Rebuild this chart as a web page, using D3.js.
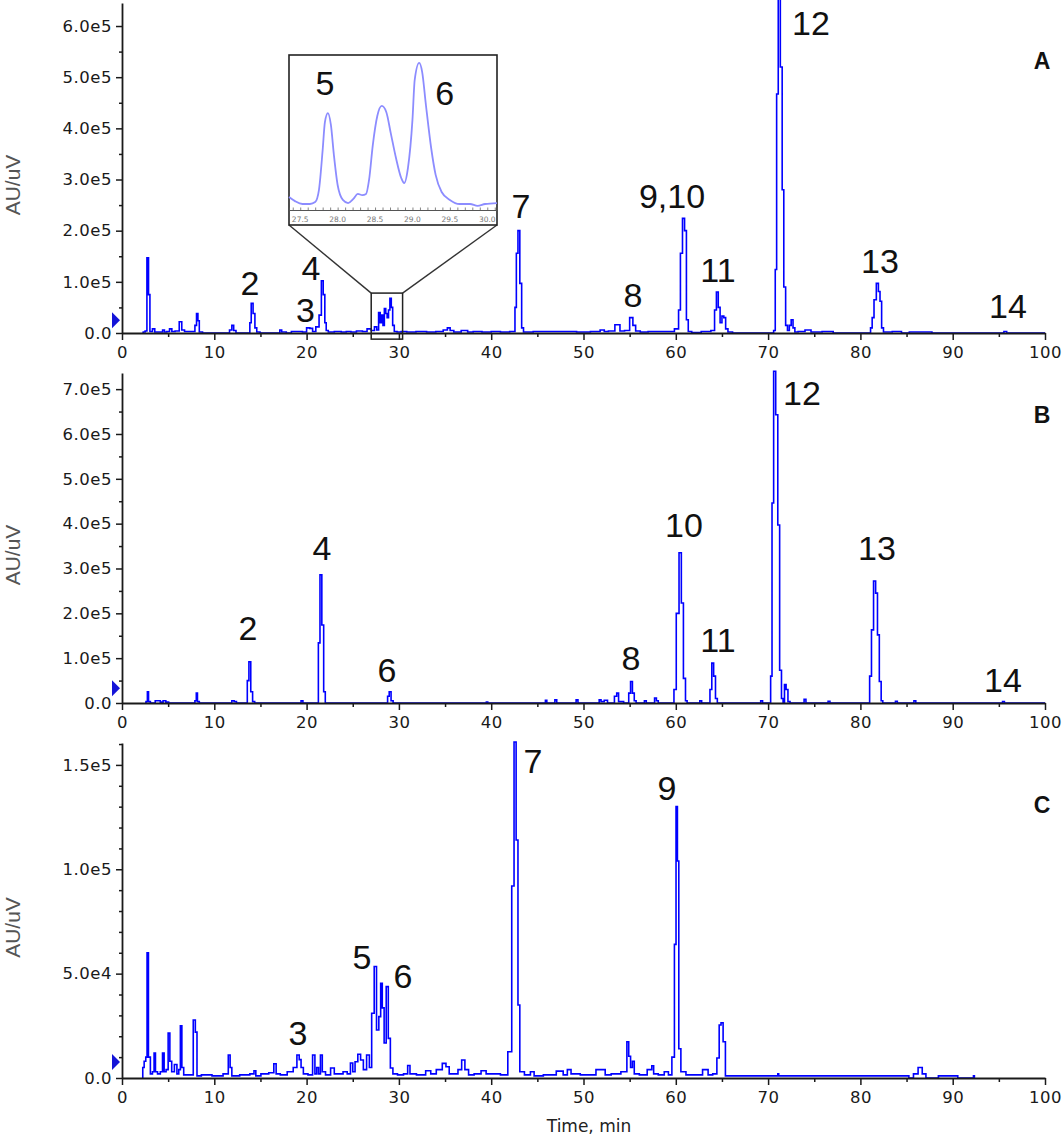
<!DOCTYPE html>
<html>
<head>
<meta charset="utf-8">
<script src="https://cdn.jsdelivr.net/npm/d3@7"></script>
<style>
  body { margin: 0; background: #fff; }
  svg { display: block; }
</style>
</head>
<body>
<svg id="chart" width="1064" height="1136"></svg>
<script>

// ---- data: [time (min), intensity (AU/uV)] ----
var traceA = [
  [2.2,0],[2.4,2e3],[2.6,4e3],[2.8,147e3],[2.95,75e3],[3.1,3e3],[3.5,8e3],[3.6,2e3],[4.3,2e3],[4.5,6e3],
  [4.7,2e3],[5.0,3e3],[5.3,8e3],[5.5,3e3],[6.0,4e3],[6.4,22e3],[6.55,6e3],[7.0,3e3],[7.8,3e3],[8.0,15e3],
  [8.15,38e3],[8.3,24e3],[8.45,2e3],[9.0,0],[11.5,0],[11.8,6e3],[12.0,15e3],[12.2,5e3],[12.5,0],[13.8,0],
  [13.9,20e3],[14.1,58e3],[14.3,38e3],[14.5,10e3],[14.7,2e3],[15.2,0],[17.0,0],[17.2,6e3],[17.4,2e3],[18.2,0],
  [18.5,3e3],[19.3,3e3],[19.8,2e3],[20.2,10e3],[20.5,9e3],[20.8,3e3],[21.2,12e3],[21.5,35e3],[21.7,102e3],[21.9,75e3],
  [22.05,20e3],[22.2,5e3],[22.5,2e3],[23.5,3e3],[24.0,2e3],[24.6,3e3],[25.0,2e3],[25.8,4e3],[26.3,3e3],[26.8,8e3],
  [27.2,5e3],[27.5,12e3],[27.7,6e3],[27.9,40e3],[28.05,20e3],[28.2,35e3],[28.35,15e3],[28.5,48e3],[28.65,38e3],[28.8,30e3],
  [28.95,45e3],[29.1,68e3],[29.25,50e3],[29.4,15e3],[29.6,3e3],[30.0,2e3],[30.5,3e3],[31.2,2e3],[32.5,3e3],[33.5,2e3],
  [34.5,3e3],[35.1,6e3],[35.4,10e3],[35.7,5e3],[36.2,2e3],[37.3,5e3],[37.6,2e3],[38.5,3e3],[39.5,2e3],[40.5,3e3],
  [41.5,2e3],[42.5,3e3],[42.65,50e3],[42.8,156e3],[43.0,200e3],[43.2,97e3],[43.4,10e3],[43.6,2e3],[45.5,3e3],[47.0,3e3],
  [48.5,3e3],[50.0,2e3],[51.5,3e3],[52.1,6e3],[52.4,3e3],[53.0,4e3],[53.8,16e3],[54.1,4e3],[54.8,5e3],[55.2,30e3],
  [55.5,15e3],[55.8,4e3],[56.5,2e3],[57.5,3e3],[59.5,3e3],[60.2,8e3],[60.4,45e3],[60.6,156e3],[60.85,224e3],[61.05,200e3],
  [61.25,26e3],[61.45,3e3],[62.0,1e3],[63.5,3e3],[64.1,5e3],[64.3,45e3],[64.5,80e3],[64.7,50e3],[64.9,20e3],[65.1,33e3],
  [65.3,30e3],[65.5,8e3],[65.8,2e3],[66.5,0],[70.5,0],[70.7,5e3],[70.85,124e3],[71.0,467e3],[71.2,660e3],[71.45,520e3],
  [71.6,280e3],[71.8,90e3],[72.0,15e3],[72.2,5e3],[72.4,15e3],[72.6,26e3],[72.8,10e3],[73.0,2e3],[73.5,3e3],[74.5,6e3],
  [74.8,2e3],[76.9,3e3],[77.2,0],[81.0,0],[81.2,10e3],[81.35,30e3],[81.6,65e3],[81.85,97e3],[82.05,81e3],[82.2,62e3],
  [82.4,10e3],[82.6,2e3],[84.3,3e3],[84.6,0],[86.0,2e3],[87.5,2e3],[88.0,0],[95.4,0],[95.7,3e3],[96.0,0],[100,0]
];

var traceB = [
  [2.5,0],[2.7,3e3],[2.8,25e3],[2.95,3e3],[3.2,0],[4.0,5e3],[4.3,2e3],[4.6,5e3],[4.9,2e3],[5.2,0],
  [7.8,0],[8.0,5e3],[8.1,22e3],[8.25,3e3],[8.5,0],[11.8,0],[12.0,5e3],[12.3,3e3],[12.5,0],[13.5,0],
  [13.65,50e3],[13.85,92e3],[14.05,25e3],[14.25,3e3],[14.5,0],[19.3,0],[19.5,5e3],[19.7,0],[21.2,0],[21.35,134e3],
  [21.55,286e3],[21.75,174e3],[21.95,25e3],[22.1,0],[28.7,0],[28.85,15e3],[29.05,25e3],[29.25,5e3],[29.5,0],[39.4,0],
  [39.55,2e3],[39.7,0],[45.8,0],[45.95,6e3],[46.1,0],[46.8,0],[47.0,7e3],[47.2,0],[49.1,0],[49.3,7e3],
  [49.5,0],[51.6,0],[51.8,7e3],[52.0,3e3],[52.5,6e3],[52.7,0],[53.2,0],[53.5,15e3],[53.7,22e3],[53.9,3e3],
  [54.8,0],[55.0,22e3],[55.2,48e3],[55.4,22e3],[55.6,5e3],[55.8,0],[56.5,0],[56.7,5e3],[56.9,0],[57.6,0],
  [57.8,11e3],[58.0,5e3],[58.2,0],[59.7,0],[59.9,30e3],[60.2,200e3],[60.5,335e3],[60.7,223e3],[60.95,55e3],[61.15,5e3],
  [61.3,0],[62.5,0],[62.7,5e3],[62.9,0],[63.6,0],[63.8,30e3],[64.0,89e3],[64.2,60e3],[64.4,10e3],[64.6,0],
  [69.1,0],[69.3,5e3],[69.5,0],[70.2,0],[70.35,60e3],[70.5,446e3],[70.7,740e3],[70.95,643e3],[71.15,397e3],[71.35,73e3],
  [71.55,10e3],[71.7,0],[71.85,41e3],[72.05,30e3],[72.25,3e3],[72.5,0],[73.8,0],[74.0,8e3],[74.2,0],[76.4,0],
  [76.6,4e3],[76.8,0],[80.9,0],[81.1,60e3],[81.3,163e3],[81.55,272e3],[81.75,245e3],[81.95,152e3],[82.15,48e3],[82.35,5e3],
  [82.5,0],[83.7,0],[83.9,4e3],[84.1,0],[85.7,0],[85.9,5e3],[86.1,0],[95.3,0],[95.5,3e3],[95.7,0],[100,0]
];

var traceC = [
  [2.2,0],[2.3,5e3],[2.5,8e3],[2.65,10e3],[2.78,60e3],[2.95,10e3],[3.2,2e3],[3.4,3e3],[3.55,12e3],[3.7,3e3],
  [4.0,2e3],[4.3,3e3],[4.48,12e3],[4.65,3e3],[4.9,4e3],[5.1,21.5e3],[5.27,8e3],[5.5,3e3],[5.85,6.5e3],[6.05,2e3],
  [6.25,4e3],[6.4,25e3],[6.57,5e3],[6.8,1.5e3],[7.6,1.5e3],[7.84,27.8e3],[8.05,22e3],[8.2,1e3],[9.0,1.5e3],[10.5,1e3],
  [11.4,2e3],[11.63,11e3],[11.8,5e3],[12.0,1e3],[13.5,1.5e3],[14.2,2e3],[14.4,3.5e3],[14.6,1e3],[15.5,2e3],[16.3,2.5e3],
  [16.6,6.8e3],[16.8,2e3],[17.5,1.5e3],[18.3,3e3],[18.8,5e3],[19.1,11e3],[19.3,8.8e3],[19.5,5e3],[19.8,2e3],[20.5,1.5e3],
  [20.8,11e3],[21.0,2e3],[21.2,5e3],[21.4,2e3],[21.6,11e3],[21.8,3e3],[22.3,1.5e3],[22.9,4.8e3],[23.1,2e3],[23.7,2e3],
  [24.2,3e3],[24.6,2e3],[24.9,7.2e3],[25.1,3e3],[25.4,7.8e3],[25.7,11.4e3],[26.0,8.6e3],[26.3,4e3],[26.7,11e3],[26.9,5e3],
  [27.2,31e3],[27.45,53.4e3],[27.7,23e3],[27.95,29.4e3],[28.1,45.4e3],[28.3,33.6e3],[28.5,16.8e3],[28.75,43.8e3],[28.95,19e3],[29.2,4.8e3],
  [29.5,2e3],[30.2,1.5e3],[30.8,2e3],[31.1,6e3],[31.3,2e3],[32.5,1.5e3],[33.3,3.5e3],[33.6,2e3],[34.5,4e3],[34.9,7e3],
  [35.3,5.4e3],[35.6,2e3],[36.2,2e3],[36.6,4e3],[37.0,8.6e3],[37.3,4e3],[37.8,1.5e3],[38.5,2e3],[39.3,3.5e3],[39.6,2e3],
  [40.5,2e3],[41.5,1.5e3],[42.1,12.6e3],[42.35,92e3],[42.6,161e3],[42.8,114e3],[43.0,35e3],[43.2,3e3],[44.0,1.5e3],[44.5,3e3],
  [44.8,1e3],[46.5,1.5e3],[47.6,3.3e3],[48.0,1.5e3],[48.5,4e3],[48.8,2e3],[50.5,1.5e3],[52.2,4e3],[52.5,1.5e3],[53.5,2e3],
  [54.6,3e3],[54.8,17.4e3],[55.0,10.4e3],[55.2,5e3],[55.4,8e3],[55.6,2e3],[56.5,1.5e3],[57.3,4e3],[57.5,5.9e3],[57.7,2e3],
  [58.5,1.5e3],[59.0,3e3],[59.4,1.5e3],[59.75,10e3],[59.95,64e3],[60.1,130e3],[60.25,104e3],[60.4,14e3],[60.7,3e3],[61.5,1.5e3],
  [62.5,1.5e3],[63.3,4e3],[63.7,1.5e3],[64.3,2e3],[64.6,9.6e3],[64.8,25.4e3],[65.0,26.5e3],[65.25,17.4e3],[65.5,1e3],[71.0,1e3],
  [71.1,2e3],[71.2,1e3],[85.0,1e3],[85.5,0],[86.0,2e3],[86.5,5e3],[86.9,2e3],[87.3,0],[88.4,0],[88.5,1e3],
  [90.5,1e3],[90.6,0],[92.2,0],[92.3,1e3],[92.4,0]
];

// zoomed trace of panel A between 27.35 and 30.13 min
var insetTrace = [
  [27.35,6.7e3],[27.43,4.6e3],[27.53,3.1e3],[27.63,3.1e3],[27.7,4.1e3],[27.75,10.3e3],[27.8,31e3],[27.83,45.4e3],
  [27.87,50e3],[27.91,43.9e3],[27.95,28.4e3],[28.0,12.9e3],[28.07,5.2e3],[28.14,3.6e3],[28.21,5.7e3],[28.27,8.3e3],
  [28.33,7.7e3],[28.38,8.3e3],[28.42,15.5e3],[28.47,33.5e3],[28.53,48.5e3],[28.59,53.7e3],[28.65,50.6e3],[28.71,39.7e3],
  [28.78,26.8e3],[28.85,16.5e3],[28.89,13.9e3],[28.94,21.7e3],[29.0,46.5e3],[29.03,67.1e3],[29.09,75.9e3],[29.13,71.2e3],
  [29.18,54.2e3],[29.25,32e3],[29.31,18.1e3],[29.39,9.3e3],[29.5,5.2e3],[29.63,3.1e3],[29.77,3.1e3],[29.87,2.1e3],
  [29.97,3.1e3],[30.13,3.6e3]
];
var insetTicks = [27.5, 28.0, 28.5, 29.0, 29.5, 30.0];
var zoomWindow = [27.0, 30.4];      // time range boxed in panel A
var zoomLevels = [-1.2e4, 7.8e4];   // intensity range of that box

// peak labels: [text, time, intensity at text baseline]
var labelsA = [["2",13.87,74e3],["3",19.88,21.5e3],["4",20.48,103.6e3],["7",43.23,224.7e3],["9,10",59.59,244e3],
  ["8",55.36,50.8e3],["11",64.57,99.7e3],["12",74.65,582e3],["13",82.12,117e3],["14",95.99,29.3e3]];
var labelsInset = [["5",27.83,59.4e3],["6",29.43,54.2e3]];
var labelsB = [["2",13.65,140.6e3],["4",21.67,319e3],["6",28.71,46.9e3],["8",55.15,73.6e3],["10",60.89,370e3],
  ["11",64.57,113.8e3],["12",73.67,665e3],["13",81.8,319e3],["14",95.45,24.5e3]];
var labelsC = [["3",19.07,15.8e3],["5",26.0,52.2e3],["6",30.44,43.1e3],["7",44.53,146e3],["9",59.05,133e3]];

var panelNames = ["A", "B", "C"];
var markerLevels = [2.5e4, 3.3e4, 7.7e3];
var xTicks = d3.range(0, 101, 10);
var xMinorTicks = d3.range(5, 100, 10);

// ---- layout ----
var panels = [
  { trace: traceA, labels: labelsA, yMax: 6.45e5, top: 3,   base: 333,  major: 1e5, minor: 5e4, letterY: 69 },
  { trace: traceB, labels: labelsB, yMax: 7.36e5, top: 373, base: 703,  major: 1e5, minor: 5e4, letterY: 423 },
  { trace: traceC, labels: labelsC, yMax: 1.605e5, top: 743, base: 1078, major: 5e4, minor: 1e4, letterY: 813 }
];

var svg = d3.select("#chart");
var x = d3.scaleLinear().domain([0, 100]).range([122, 1045]);
var axisFont = "DejaVu Sans";

function sci(v) {
  if (v === 0) return "0.0";
  var e = Math.floor(Math.log10(v) + 1e-9);
  return (v / Math.pow(10, e)).toFixed(1) + "e" + e;
}

function styleAxis(g) {
  g.selectAll("path.domain").attr("stroke", "#1a1a1a").attr("stroke-width", 1.8);
  g.selectAll(".tick line").attr("stroke", "#1a1a1a").attr("stroke-width", 1.5);
  g.selectAll(".tick text").attr("fill", "#1a1a1a")
    .attr("font-family", axisFont).attr("font-size", 16.5).attr("letter-spacing", 0.5);
}

panels.forEach(function(p, i) {
  var y = d3.scaleLinear().domain([0, p.yMax]).range([p.base, p.top]);
  var g = svg.append("g");

  // trace
  g.append("path")
    .datum(p.trace)
    .attr("d", d3.line().x(function(d) { return x(d[0]); }).y(function(d) { return y(d[1]); }).curve(d3.curveStep))
    .attr("fill", "none")
    .attr("stroke", "#0000ff")
    .attr("stroke-width", 1.6);

  // minor ticks
  g.append("g").attr("transform", "translate(0," + p.base + ")")
    .call(d3.axisBottom(x).tickValues(xMinorTicks).tickSize(4).tickFormat(""))
    .call(function(a) { a.select(".domain").remove(); })
    .call(styleAxis);
  var yMinor = d3.range(p.minor, p.yMax, p.minor).filter(function(v) { return Math.abs(v / p.major - Math.round(v / p.major)) > 1e-6; });
  g.append("g").attr("transform", "translate(122,0)")
    .call(d3.axisLeft(y).tickValues(yMinor).tickSize(3).tickFormat(""))
    .call(function(a) { a.select(".domain").remove(); })
    .call(styleAxis);

  // major axes
  g.append("g").attr("transform", "translate(0," + p.base + ")")
    .call(d3.axisBottom(x).tickValues(xTicks).tickSize(7).tickSizeOuter(0).tickPadding(6))
    .call(styleAxis);
  g.append("g").attr("transform", "translate(122,0)")
    .call(d3.axisLeft(y).tickValues(d3.range(0, p.yMax, p.major)).tickFormat(sci).tickSize(6).tickSizeOuter(0).tickPadding(4))
    .call(styleAxis);

  // start marker
  var my = y(markerLevels[i]);
  g.append("path")
    .attr("d", "M112," + (my - 8) + "L120," + my + "L112," + (my + 8) + "Z")
    .attr("fill", "#1414d8");

  // y title
  g.append("text")
    .attr("transform", "translate(20," + ((p.top + p.base) / 2 + 17) + ") rotate(-90)")
    .attr("text-anchor", "middle")
    .attr("font-family", "Liberation Sans, Arial, sans-serif")
    .attr("font-size", 21)
    .attr("fill", "#555")
    .text("AU/uV");

  // peak labels
  g.selectAll("text.peak").data(p.labels).enter().append("text")
    .attr("class", "peak")
    .attr("x", function(d) { return x(d[1]); })
    .attr("y", function(d) { return y(d[2]); })
    .attr("text-anchor", "middle")
    .attr("font-family", "Liberation Sans, Arial, sans-serif")
    .attr("font-size", 34)
    .attr("fill", "#111")
    .text(function(d) { return d[0]; });

  // panel letter
  g.append("text")
    .attr("x", 1042).attr("y", p.letterY)
    .attr("text-anchor", "middle")
    .attr("font-family", "Liberation Sans, Arial, sans-serif")
    .attr("font-weight", "bold")
    .attr("font-size", 23)
    .attr("fill", "#111")
    .text(panelNames[i]);

  if (i === 0) drawInset(g, y);
});

function drawInset(g, yA) {
  var box = { left: 289, right: 497, top: 55, bottom: 225, axis: 210 };
  var ix = d3.scaleLinear().domain([27.35, 30.13]).range([box.left, box.right]);
  var iy = d3.scaleLinear().domain([0, 8e4]).range([box.axis, box.top]);

  // window in the main trace + connectors
  var wx0 = x(zoomWindow[0]), wx1 = x(zoomWindow[1]);
  var wy0 = yA(zoomLevels[1]), wy1 = yA(zoomLevels[0]);
  g.append("rect").attr("x", wx0).attr("y", wy0).attr("width", wx1 - wx0).attr("height", wy1 - wy0)
    .attr("fill", "none").attr("stroke", "#222").attr("stroke-width", 1.5);
  g.append("line").attr("x1", box.left).attr("y1", box.bottom).attr("x2", wx0).attr("y2", wy0)
    .attr("stroke", "#333").attr("stroke-width", 1.4);
  g.append("line").attr("x1", box.right).attr("y1", box.bottom).attr("x2", wx1).attr("y2", wy0)
    .attr("stroke", "#333").attr("stroke-width", 1.4);

  g.append("rect").attr("x", box.left).attr("y", box.top)
    .attr("width", box.right - box.left).attr("height", box.bottom - box.top)
    .attr("fill", "#fff").attr("stroke", "#222").attr("stroke-width", 1.6);

  g.append("path").datum(insetTrace)
    .attr("d", d3.line().x(function(d) { return ix(d[0]); }).y(function(d) { return iy(d[1]); }).curve(d3.curveMonotoneX))
    .attr("fill", "none").attr("stroke", "#8c8cff").attr("stroke-width", 1.8);

  var ia = g.append("g").attr("transform", "translate(0," + box.axis + ")")
    .call(d3.axisBottom(ix).tickValues(d3.range(27.4, 30.15, 0.1)).tickSize(-2.5).tickFormat(""));
  ia.select(".domain").attr("stroke", "#555").attr("stroke-width", 1);
  ia.selectAll(".tick line").attr("stroke", "#666").attr("stroke-width", 0.8);

  g.selectAll("text.itick").data(insetTicks).enter().append("text")
    .attr("class", "itick")
    .attr("x", function(d) { return ix(d); })
    .attr("y", box.axis + 12)
    .attr("text-anchor", "middle")
    .attr("font-family", axisFont)
    .attr("font-size", 7.5)
    .attr("fill", "#777")
    .text(function(d) { return d.toFixed(1); });

  g.selectAll("text.ipeak").data(labelsInset).enter().append("text")
    .attr("class", "ipeak")
    .attr("x", function(d) { return ix(d[1]); })
    .attr("y", function(d) { return iy(d[2]); })
    .attr("text-anchor", "middle")
    .attr("font-family", "Liberation Sans, Arial, sans-serif")
    .attr("font-size", 34)
    .attr("fill", "#111")
    .text(function(d) { return d[0]; });
}

// x title
svg.append("text")
  .attr("x", 589).attr("y", 1132)
  .attr("text-anchor", "middle")
  .attr("font-family", axisFont)
  .attr("font-size", 17)
  .attr("fill", "#222")
  .text("Time, min");

</script>
</body>
</html>
